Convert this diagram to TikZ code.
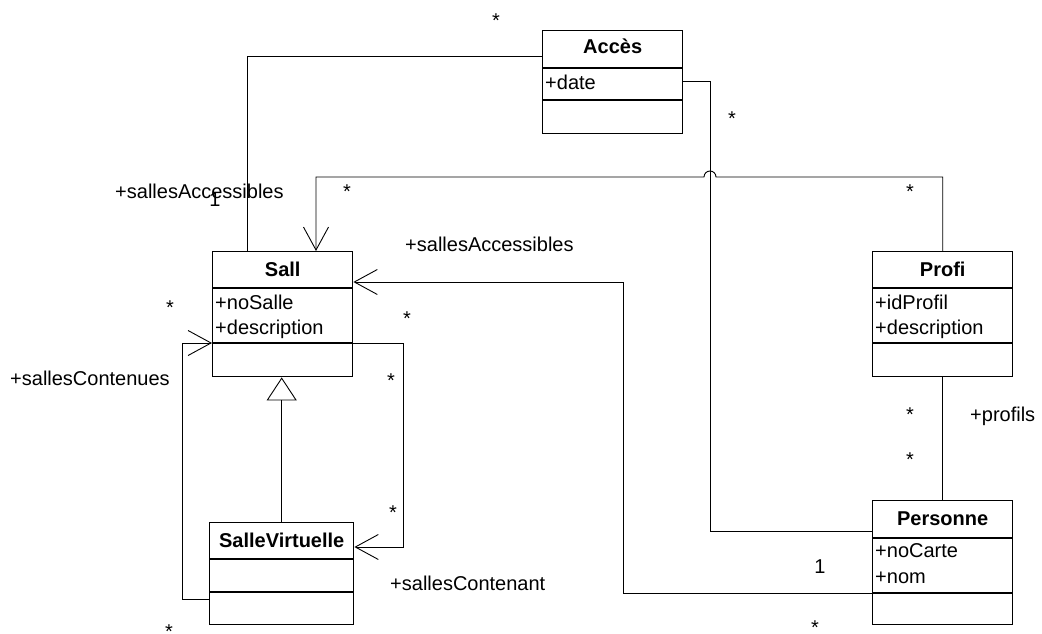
\documentclass[tikz,border=0pt]{standalone}
\usepackage{fontspec}
\setmainfont{Liberation Sans}
\usetikzlibrary{arrows.meta,calc}
\begin{document}
\begin{tikzpicture}[x=1pt,y=-1pt,
  every node/.style={inner sep=0pt, font=\fontsize{20}{24}\selectfont},
  clsbox/.style={draw, line width=1.4pt, anchor=north west, minimum width=#1},
  divider/.style={line width=1.4pt},
  conn/.style={line width=0.9pt},
  title/.style={anchor=base, font=\fontsize{20}{24}\selectfont\bfseries},
  attr/.style={anchor=base west},
  mult/.style={anchor=base},
  role/.style={anchor=base west},
  barb/.tip={Straight Barb[length=23pt,width=25pt]},
  gen/.tip={Triangle[open,length=23pt,width=30pt]}
]
\fill[white] (0,0) rectangle (1042,634);
\useasboundingbox (0,0) rectangle (1042,634);

% ---- classes ----
\node[clsbox=140pt, minimum height=103pt] (acces) at (542,30) {};
\draw[divider] (acces.west |- 0,68) -- (acces.east |- 0,68);
\draw[divider] (acces.west |- 0,100) -- (acces.east |- 0,100);
\node[title] (accesT) at ($(acces.north)+(0,24)$) {Accès};
\node[attr] (accesA1) at ($(acces.north west)+(3,59)$) {+date};

\node[clsbox=140pt, minimum height=125pt] (sall) at (212,251) {};
\draw[divider] (sall.west |- 0,288) -- (sall.east |- 0,288);
\draw[divider] (sall.west |- 0,343) -- (sall.east |- 0,343);
\node[title] (sallT) at ($(sall.north)+(0,25)$) {Sall};
\node[attr] (sallA1) at ($(sall.north west)+(3,58)$) {+noSalle};
\node[attr] (sallA2) at ($(sall.north west)+(3,83)$) {+description};

\node[clsbox=140pt, minimum height=125pt] (profi) at (872,251) {};
\draw[divider] (profi.west |- 0,288) -- (profi.east |- 0,288);
\draw[divider] (profi.west |- 0,343) -- (profi.east |- 0,343);
\node[title] (profiT) at ($(profi.north)+(0,25)$) {Profi};
\node[attr] (profiA1) at ($(profi.north west)+(3,58)$) {+idProfil};
\node[attr] (profiA2) at ($(profi.north west)+(3,83)$) {+description};

\node[clsbox=140pt, minimum height=124pt] (personne) at (872,500) {};
\draw[divider] (personne.west |- 0,538) -- (personne.east |- 0,538);
\draw[divider] (personne.west |- 0,593) -- (personne.east |- 0,593);
\node[title] (personneT) at ($(personne.north)+(0,25)$) {Personne};
\node[attr] (personneA1) at ($(personne.north west)+(3,57)$) {+noCarte};
\node[attr] (personneA2) at ($(personne.north west)+(3,83)$) {+nom};

\node[clsbox=144pt, minimum height=102pt] (sv) at (209,522) {};
\draw[divider] (sv.west |- 0,559) -- (sv.east |- 0,559);
\draw[divider] (sv.west |- 0,592) -- (sv.east |- 0,592);
\node[title] (svT) at ($(sv.north)+(0,25)$) {SalleVirtuelle};

% ---- connectors ----
\draw[conn] (acces.west |- 0,56) -| (sall.north -| 247,0);
\draw[conn] (acces.east |- 0,81) -| (710,531) -- (personne.west |- 0,531);
\draw[conn,-barb] (profi.north) |- (716,177)
   arc[start angle=0, end angle=180, radius=6pt] -| (sall.north -| 316,0);
\draw[conn,-barb] (personne.west |- 0,593) -| (623,282) -- (sall.east |- 0,282);
\draw[conn,-barb] (sall.east |- 0,343) -| (403,547) -- (sv.east |- 0,547);
\draw[conn,-barb] (sv.west |- 0,599) -| (182,343) -- (sall.west |- 0,343);
\draw[conn,-gen] (sv.north) -- (sv.north |- sall.south);
\draw[conn] (profi.south) -- (personne.north);

% ---- multiplicities and roles ----
\node[mult] (m1) at (496,28) {*};
\node[mult] (m2) at (732,125) {*};
\node[mult] (m3) at (347,198) {*};
\node[mult] (m4) at (910,198) {*};
\node[mult] (m5) at (170,314) {*};
\node[mult] (m6) at (407,325) {*};
\node[mult] (m7) at (391,387) {*};
\node[mult] (m8) at (393,519) {*};
\node[mult] (m9) at (169,638) {*};
\node[mult] (m10) at (910,421) {*};
\node[mult] (m11) at (910,466) {*};
\node[mult] (m12) at (815,634) {*};
\node[mult] (one1) at (215,206) {1};
\node[mult] (one2) at (820,573) {1};

\node[role] (r1) at (115,198) {+sallesAccessibles};
\node[role] (r2) at (405,251) {+sallesAccessibles};
\node[role] (r3) at (10,385) {+sallesContenues};
\node[role] (r4) at (390,590) {+sallesContenant};
\node[role] (r5) at (970,421) {+profils};
\end{tikzpicture}
\end{document}
